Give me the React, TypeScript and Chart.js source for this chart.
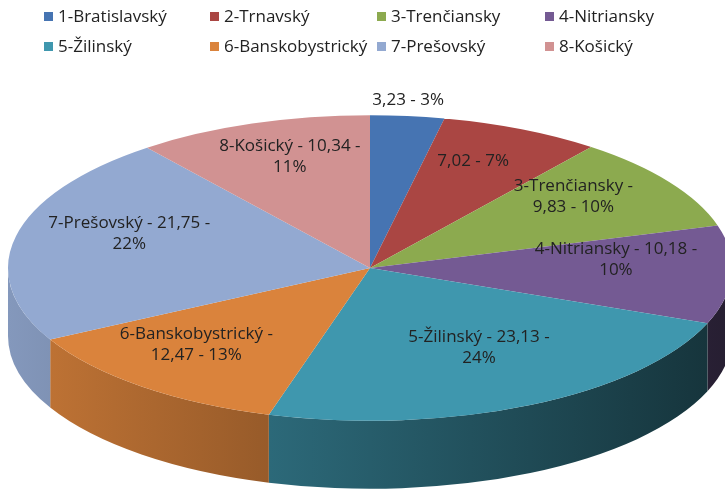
import React, { useEffect, useRef } from "react";
import { Chart, registerables } from "chart.js";

Chart.register(...registerables);

const categories = [
  "1-Bratislavský",
  "2-Trnavský",
  "3-Trenčiansky",
  "4-Nitriansky",
  "5-Žilinský",
  "6-Banskobystrický",
  "7-Prešovský",
  "8-Košický",
];
const values = [3.23, 7.02, 9.83, 10.18, 23.13, 12.47, 21.75, 10.34];
const colors = ["#4674B2", "#AA4643", "#8CAA4F", "#745A93", "#3F97AE", "#DA833C", "#93A9D1", "#D19292"];
// which labels include the category name, and how many " - " parts go on the first line
const showName = [false, false, true, true, true, true, true, true];
const firstLineParts = [2, 2, 1, 2, 2, 1, 2, 2];

const total = values.reduce((a, b) => a + b, 0);
const percents = values.map((v) => Math.round((v / total) * 100));

function labelLines(i: number): string[] {
  const parts: string[] = [];
  if (showName[i]) parts.push(categories[i]);
  parts.push(values[i].toFixed(2).replace(".", ","));
  parts.push(percents[i] + "%");
  const n = firstLineParts[i];
  if (n >= parts.length) return [parts.join(" - ")];
  const l1 = parts.slice(0, n).join(" - ") + " -";
  const l2 = parts.slice(n).join(" - ");
  return [l1, l2];
}

const SQUASH = 0.422;
const DEPTH = 68;
const CENTER_Y = 268;
const LABEL_SHIFT = -13;
const FONT = "17px 'Open Sans', 'Noto Sans', sans-serif";

function shade(hex: string, f: number): string {
  const n = parseInt(hex.slice(1), 16);
  const r = Math.round(((n >> 16) & 255) * f);
  const g = Math.round(((n >> 8) & 255) * f);
  const b = Math.round((n & 255) * f);
  return `rgb(${r},${g},${b})`;
}

const pie3d = {
  id: "pie3d",
  beforeDatasetsDraw(chart: any) {
    const ctx = chart.ctx as CanvasRenderingContext2D;
    const arcs = chart.getDatasetMeta(0).data as any[];
    ctx.save();
    if (!arcs.length) return;
    const cx = arcs[0].x;
    const cy = arcs[0].y;
    const R = arcs[0].outerRadius;
    const ry = R * SQUASH;
    arcs.forEach((arc, i) => {
      const b0 = Math.max(arc.startAngle, 0);
      const b1 = Math.min(arc.endAngle, Math.PI);
      if (b1 <= b0) return;
      const grad = ctx.createLinearGradient(cx - R, 0, cx + R, 0);
      grad.addColorStop(0, shade(colors[i], 0.9));
      grad.addColorStop(1, shade(colors[i], 0.33));
      ctx.beginPath();
      ctx.ellipse(cx, CENTER_Y, R, ry, 0, b0, b1, false);
      ctx.ellipse(cx, CENTER_Y + DEPTH, R, ry, 0, b1, b0, true);
      ctx.closePath();
      ctx.fillStyle = grad;
      ctx.fill();
    });
    ctx.translate(0, CENTER_Y);
    ctx.scale(1, SQUASH);
    ctx.translate(0, -cy);
  },
  afterDatasetsDraw(chart: any) {
    const ctx = chart.ctx as CanvasRenderingContext2D;
    ctx.restore();
    const arcs = chart.getDatasetMeta(0).data as any[];
    if (!arcs.length) return;
    const cx = arcs[0].x;
    const R = arcs[0].outerRadius;
    ctx.save();
    ctx.font = FONT;
    ctx.fillStyle = "#222222";
    ctx.textAlign = "center";
    ctx.textBaseline = "middle";
    arcs.forEach((arc, i) => {
      const m = (arc.startAngle + arc.endAngle) / 2;
      const frac = i === 0 ? 1.02 : i === 5 ? 0.76 : 0.68;
      const x = cx + R * frac * Math.cos(m);
      const y = CENTER_Y + LABEL_SHIFT + R * SQUASH * frac * Math.sin(m);
      const lines = labelLines(i);
      const lh = 21;
      lines.forEach((t, k) => {
        ctx.fillText(t, x, y + (k - (lines.length - 1) / 2) * lh);
      });
    });
    ctx.restore();
  },
  afterDraw(chart: any) {
    const ctx = chart.ctx as CanvasRenderingContext2D;
    const colX = [44, 210, 377, 545];
    const rowY = [17, 47];
    ctx.save();
    ctx.font = FONT;
    ctx.textAlign = "left";
    ctx.textBaseline = "middle";
    categories.forEach((c, i) => {
      const x = colX[i % 4];
      const y = rowY[Math.floor(i / 4)];
      ctx.fillStyle = colors[i];
      ctx.fillRect(x, y - 5, 9, 9);
      ctx.fillStyle = "#222222";
      ctx.fillText(c, x + 14, y);
    });
    ctx.restore();
  },
};

export default function App() {
  const ref = useRef<HTMLCanvasElement | null>(null);
  useEffect(() => {
    if (!ref.current) return;
    const chart = new Chart(ref.current, {
      type: "pie",
      data: {
        labels: categories,
        datasets: [
          {
            data: values,
            backgroundColor: colors,
            borderWidth: 0,
            radius: 362,
            clip: false,
          } as any,
        ],
      },
      options: {
        responsive: false,
        animation: false,
        events: [],
        layout: { padding: { left: 15, right: 0, top: 0, bottom: 0 } },
        plugins: {
          legend: { display: false },
          tooltip: { enabled: false },
        },
      },
      plugins: [pie3d],
    });
    return () => chart.destroy();
  }, []);
  return (
    <div style={{ position: "fixed", left: 0, top: 0, width: 725, height: 497, background: "#fff" }}>
      <canvas ref={ref} width={725} height={497} style={{ width: 725, height: 497 }} />
    </div>
  );
}
